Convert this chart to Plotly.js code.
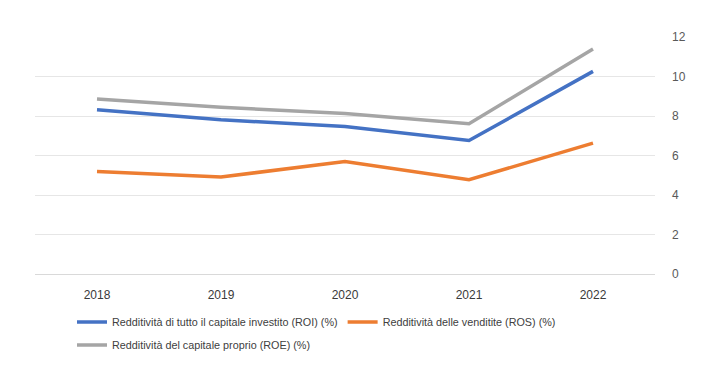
<!DOCTYPE html>
<html><head><meta charset="utf-8">
<script src="https://cdn.plot.ly/plotly-3.0.1.min.js"></script>
<style>html,body{margin:0;padding:0;background:#fff}#c{width:711px;height:377px}</style>
</head><body><div id="c"></div>
<script>
const years = ['2018','2019','2020','2021','2022'];
const roi = [8.32, 7.81, 7.47, 6.76, 10.26];
const ros = [5.19, 4.91, 5.70, 4.77, 6.63];
const roe = [8.86, 8.44, 8.13, 7.61, 11.39];
const names = ['Redditività di tutto il capitale investito (ROI) (%)', 'Redditività delle venditite (ROS) (%)', 'Redditività del capitale proprio (ROE) (%)'];
const yTicks = [0, 2, 4, 6, 8, 10, 12];

const traces = [
  {x: years, y: roi, name: names[0], type: 'scatter', mode: 'lines', line: {color: '#4472C4', width: 3.5}, legend: 'legend'},
  {x: years, y: ros, name: names[1], type: 'scatter', mode: 'lines', line: {color: '#ED7D31', width: 3.5}, legend: 'legend'},
  {x: years, y: roe, name: names[2], type: 'scatter', mode: 'lines', line: {color: '#A5A5A5', width: 3.5}, legend: 'legend2'}
];
const legFont = {family: 'Liberation Sans, Arial, sans-serif', size: 10.8, color: '#404040'};
const layout = {
  width: 711, height: 377,
  margin: {l: 35, r: 56, t: 37, b: 103},
  paper_bgcolor: '#fff', plot_bgcolor: '#fff',
  showlegend: true,
  xaxis: {type: 'category', range: [-0.5, 4.5], showgrid: false, zeroline: false, showline: false, ticks: '',
          tickfont: {family: 'Liberation Sans, Arial, sans-serif', size: 12, color: '#3a3a3a'}, ticklabelstandoff: 12},
  yaxis: {side: 'right', range: [0, 12], tickvals: yTicks, showgrid: true, gridcolor: '#e6e6e6', gridwidth: 1,
          zeroline: true, zerolinecolor: '#d9d9d9', showline: false, ticks: '',
          tickfont: {family: 'Liberation Sans, Arial, sans-serif', size: 12, color: '#595959'}, ticklabelstandoff: 16},
  legend: {orientation: 'h', xref: 'paper', yref: 'paper', xanchor: 'left', yanchor: 'middle',
           font: legFont, bgcolor: 'rgba(0,0,0,0)', itemwidth: 30, tracegroupgap: 0},
  legend2: {orientation: 'h', xanchor: 'left', yanchor: 'middle', font: legFont, bgcolor: 'rgba(0,0,0,0)', itemwidth: 30}
};
const plotH = 377 - 37 - 103, plotW = 711 - 35 - 56;
function px2paperY(py){ return (377 - 103 - py) / plotH; }
function px2paperX(px){ return (px - 35) / plotW; }
layout.legend.x = px2paperX(72); layout.legend.y = px2paperY(322);
layout.legend2.x = px2paperX(72); layout.legend2.y = px2paperY(345);
Plotly.newPlot('c', traces, layout, {displayModeBar: false, staticPlot: true});
</script></body></html>
